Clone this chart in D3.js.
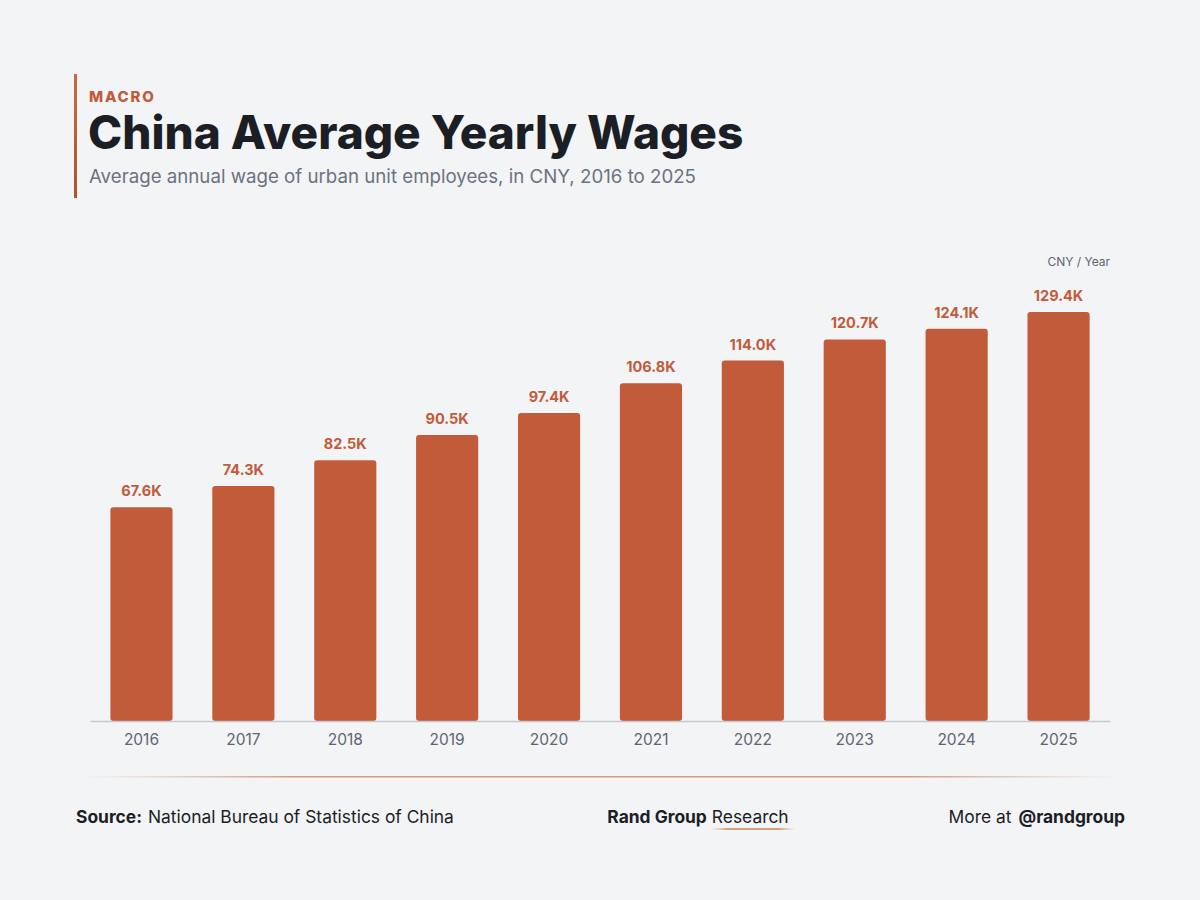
<!DOCTYPE html>
<html>
<head>
<meta charset="utf-8">
<script src="https://cdn.jsdelivr.net/npm/d3@7"></script>
<style>
  body { margin: 0; background: #f3f4f6; }
  svg { display: block; font-family: Inter, "Noto Sans", sans-serif; }
</style>
</head>
<body>
<svg id="chart" width="1200" height="900"></svg>
<script>
// data
var years = ["2016", "2017", "2018", "2019", "2020", "2021", "2022", "2023", "2024", "2025"];
var wages = [67.6, 74.3, 82.5, 90.5, 97.4, 106.8, 114.0, 120.7, 124.1, 129.4];  // thousand CNY

var orange = "#c15b3a";
var svg = d3.select("#chart"),
  width = +svg.attr("width"),
  height = +svg.attr("height");

svg.append("rect").attr("width", width).attr("height", height).attr("fill", "#f3f4f6");

var defs = svg.append("defs");
var accent = defs.append("linearGradient").attr("id", "accent").attr("x1", 0).attr("y1", 0).attr("x2", 0).attr("y2", 1);
accent.append("stop").attr("offset", "0%").attr("stop-color", "#c96a45");
accent.append("stop").attr("offset", "100%").attr("stop-color", "#b3502f");

var fade = defs.append("linearGradient").attr("id", "fade");
fade.append("stop").attr("offset", "0%").attr("stop-color", "#d9a283").attr("stop-opacity", 0);
fade.append("stop").attr("offset", "20%").attr("stop-color", "#d19474").attr("stop-opacity", 0.9);
fade.append("stop").attr("offset", "80%").attr("stop-color", "#d19474").attr("stop-opacity", 0.9);
fade.append("stop").attr("offset", "100%").attr("stop-color", "#d9a283").attr("stop-opacity", 0);

// header
svg.append("rect").attr("x", 74).attr("y", 74).attr("width", 3).attr("height", 124).attr("fill", "url(#accent)");

svg.append("text").attr("x", 89).attr("y", 102)
  .attr("font-size", 15).attr("font-weight", 800).attr("letter-spacing", 1.8)
  .attr("fill", orange).text("MACRO");

svg.append("text").attr("x", 88).attr("y", 149)
  .attr("font-size", 46).attr("font-weight", 800).attr("letter-spacing", 0)
  .attr("fill", "#1b1e25").text("China Average Yearly Wages");

svg.append("text").attr("x", 89).attr("y", 183)
  .attr("font-size", 18.7).attr("fill", "#6b7280")
  .text("Average annual wage of urban unit employees, in CNY, 2016 to 2025");

// chart
var x = d3.scaleBand().domain(years).range([90, 1110]).paddingInner(0.39).paddingOuter(0.2);
var y = d3.scaleLinear().domain([0, d3.max(wages) * 1.1]).range([721, 271]);

svg.append("text").attr("x", 1110).attr("y", 266)
  .attr("text-anchor", "end").attr("font-size", 12).attr("fill", "#5f6570")
  .text("CNY / Year");

svg.selectAll(".bar")
  .data(wages)
  .enter()
  .append("rect")
  .attr("class", "bar")
  .attr("x", function(d, i) { return x(years[i]); })
  .attr("y", function(d) { return y(d); })
  .attr("width", x.bandwidth())
  .attr("height", function(d) { return y(0) - y(d); })
  .attr("rx", 3)
  .attr("fill", orange);

svg.selectAll(".val")
  .data(wages)
  .enter()
  .append("text")
  .attr("class", "val")
  .attr("x", function(d, i) { return x(years[i]) + x.bandwidth() / 2; })
  .attr("y", function(d) { return y(d) - 11; })
  .attr("text-anchor", "middle")
  .attr("font-size", 14.5).attr("font-weight", 700)
  .attr("fill", orange)
  .text(function(d) { return d.toFixed(1) + "K"; });

var axis = svg.append("g").attr("transform", "translate(0,721)")
  .call(d3.axisBottom(x).tickSize(0).tickPadding(13));
axis.select(".domain").attr("stroke", "#c5c8cd").attr("stroke-width", 1.5);
axis.selectAll("text").attr("font-size", 15.5).attr("fill", "#5f6570")
  .attr("font-family", "Inter, 'Noto Sans', sans-serif");

// footer
svg.append("rect").attr("x", 80).attr("y", 776).attr("width", 1040).attr("height", 1.5).attr("fill", "url(#fade)");

var src = svg.append("text").attr("x", 76).attr("y", 823).attr("font-size", 17.4).attr("fill", "#1b1e25");
src.append("tspan").attr("font-weight", 700).text("Source:");
src.append("tspan").attr("dx", 6).text("National Bureau of Statistics of China");

var brand = svg.append("text").attr("x", 698).attr("y", 823).attr("text-anchor", "middle")
  .attr("font-size", 17.4).attr("fill", "#1b1e25");
brand.append("tspan").attr("font-weight", 700).text("Rand Group");
brand.append("tspan").attr("dx", 5).text("Research");
svg.append("rect").attr("x", 711).attr("y", 828).attr("width", 84).attr("height", 2).attr("fill", "url(#fade)");

var more = svg.append("text").attr("x", 1125).attr("y", 823).attr("text-anchor", "end")
  .attr("font-size", 17.4).attr("fill", "#1b1e25");
more.append("tspan").text("More at");
more.append("tspan").attr("dx", 7).attr("font-weight", 700).text("@randgroup");
</script>
</body>
</html>
